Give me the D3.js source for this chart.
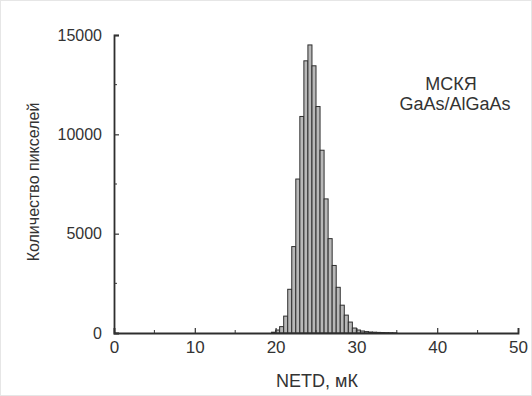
<!DOCTYPE html>
<html>
<head>
<meta charset="utf-8">
<script src="https://cdn.jsdelivr.net/npm/d3@7"></script>
<style>
  html, body { margin: 0; padding: 0; background: #fff; }
  svg { display: block; }
  text { font-family: "Liberation Sans", Arial, sans-serif; fill: #333; }
</style>
</head>
<body>
<svg id="chart" width="532" height="396"></svg>
<script>
// Histogram of per-pixel NETD values, 0.5 mK bins (left edges, mK)
const binStarts = [19.5, 20.0, 20.5, 21.0, 21.5, 22.0, 22.5, 23.0, 23.5, 24.0, 24.5,
                   25.0, 25.5, 26.0, 26.5, 27.0, 27.5, 28.0, 28.5, 29.0, 29.5, 30.0,
                   30.5, 31.0, 31.5, 32.0, 32.5, 33.0, 33.5, 34.0, 34.5];
const pixelCounts = [40, 150, 320, 850, 2200, 4350, 7750, 10900, 13700, 14500, 13450,
                     11400, 9200, 6750, 4750, 3400, 2300, 1400, 900, 550, 250, 150,
                     100, 70, 50, 40, 30, 25, 20, 15, 10];
const binWidth = 0.5;

const xTicks = [0, 10, 20, 30, 40, 50];
const xMinorTicks = [5, 15, 25, 35, 45];
const yTicks = [0, 5000, 10000, 15000];
const yMinorTicks = [2500, 7500, 12500];

const xLabel = "NETD, мК";
const yLabel = "Количество пикселей";
const noteLines = ["МСКЯ", "GaAs/AlGaAs"];

const svg = d3.select("#chart");
const W = 532, H = 396;

// faint frame around the figure
svg.append("rect").attr("x", 0.5).attr("y", 0.5).attr("width", W - 1).attr("height", H - 1)
  .attr("fill", "#fff").attr("stroke", "#e6e6e6");

const plotL = 114, plotR = 518, plotT = 35, plotB = 333;
const x = d3.scaleLinear().domain([0, 50]).range([plotL, plotR]);
const y = d3.scaleLinear().domain([0, 15000]).range([plotB, plotT]);

// bars
svg.append("g").selectAll("rect")
  .data(binStarts.map((s, i) => ({ s, v: pixelCounts[i] })))
  .join("rect")
  .attr("x", d => x(d.s))
  .attr("width", d => x(d.s + binWidth) - x(d.s))
  .attr("y", d => y(d.v))
  .attr("height", d => y(0) - y(d.v))
  .attr("fill", "#b8b8b8")
  .attr("stroke", "#2e2e2e")
  .attr("stroke-width", 1);

// axes with inward ticks
const xAxis = d3.axisBottom(x).tickValues(xTicks).tickSize(-5).tickPadding(8).tickFormat(d3.format("d"));
const gx = svg.append("g").attr("transform", `translate(0,${plotB})`).call(xAxis);
gx.append("g").selectAll("line").data(xMinorTicks).join("line")
  .attr("x1", d => x(d)).attr("x2", d => x(d)).attr("y1", 0).attr("y2", -3)
  .attr("stroke", "#333");

const yAxis = d3.axisLeft(y).tickValues(yTicks).tickSize(-5).tickPadding(12).tickFormat(d3.format("d"));
const gy = svg.append("g").attr("transform", `translate(${plotL},0)`).call(yAxis);
gy.append("g").selectAll("line").data(yMinorTicks).join("line")
  .attr("y1", d => y(d)).attr("y2", d => y(d)).attr("x1", 0).attr("x2", 3)
  .attr("stroke", "#333");

[gx, gy].forEach(g => {
  g.select(".domain").attr("stroke", "#2e2e2e").attr("stroke-width", 1.8);
  g.selectAll(".tick line").attr("stroke", "#333").attr("stroke-width", 1.2);
  g.selectAll("text").attr("fill", "#333")
    .style("font-family", "'Liberation Sans', Arial, sans-serif");
});
gx.selectAll("text").attr("font-size", 17);
gy.selectAll("text").attr("font-size", 16);

// axis titles
svg.append("text").attr("x", 317).attr("y", 386.5)
  .attr("text-anchor", "middle").attr("font-size", 18).text(xLabel);
svg.append("text")
  .attr("transform", `translate(39,182) rotate(-90)`)
  .attr("text-anchor", "middle").attr("font-size", 16).text(yLabel);

// sample annotation
svg.append("g").selectAll("text").data(noteLines).join("text")
  .attr("x", (d, i) => i === 0 ? 451 : 455).attr("y", (d, i) => 89.5 + i * 20)
  .attr("text-anchor", "middle").attr("font-size", 18).text(d => d);
</script>
</body>
</html>
